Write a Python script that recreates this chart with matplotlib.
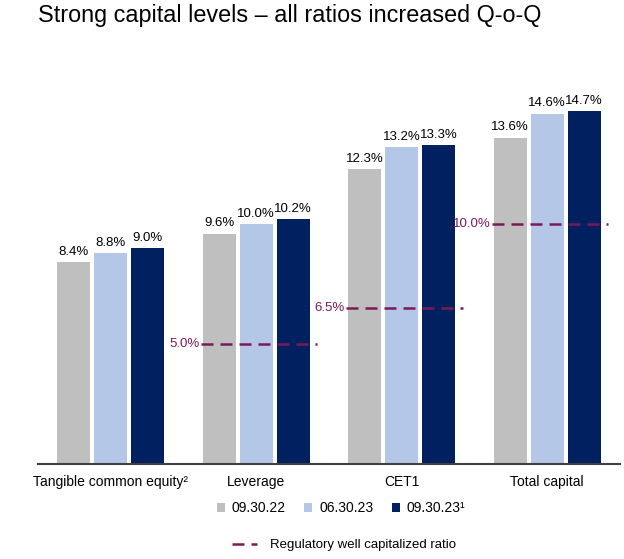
import matplotlib.pyplot as plt
import numpy as np
from matplotlib.lines import Line2D
from matplotlib.patches import Patch

plt.rcParams['font.family'] = ['Liberation Sans', 'DejaVu Sans']

categories = ["Tangible common equity\u00b2", "Leverage", "CET1", "Total capital"]
series = ["09.30.22", "06.30.23", "09.30.23\u00b9"]
q3_22 = [8.4, 9.6, 12.3, 13.6]
q2_23 = [8.8, 10.0, 13.2, 14.6]
q3_23 = [9.0, 10.2, 13.3, 14.7]
well_cap = [None, 5.0, 6.5, 10.0]  # regulatory well capitalized ratio

colors = ["#bfbfbf", "#b4c7e7", "#002060"]
line_color = "#7b1a5a"
dash = (4.8, 2.8)

fig = plt.figure(figsize=(6.24, 5.59), dpi=100)
ax = fig.add_axes([38 / 624, 95 / 559, 582 / 624, 384 / 559])

x = np.arange(len(categories))
w = 0.227
step = 0.254
for i, (vals, c) in enumerate(zip([q3_22, q2_23, q3_23], colors)):
    bars = ax.bar(x + (i - 1) * step, vals, w, color=c, label=series[i])
    ax.bar_label(bars, labels=[f"{v:.1f}%" for v in vals], padding=3, fontsize=9.5)

for xi, v in zip(x, well_cap):
    if v is None:
        continue
    ax.plot([xi - 0.38, xi + 0.42], [v, v], color=line_color, lw=1.8, dashes=dash)
    ax.text(xi - 0.39, v, f"{v:.1f}%", color=line_color, ha='right', va='center', fontsize=9.5)

ax.set_xlim(-0.5, 3.5)
ax.set_ylim(0, 16)
ax.set_xticks(x)
ax.set_xticklabels(categories)
ax.set_yticks([])
ax.tick_params(axis='x', length=0, pad=8, labelsize=10)
for s in ['top', 'left', 'right']:
    ax.spines[s].set_visible(False)
ax.spines['bottom'].set_color('#404040')
ax.spines['bottom'].set_linewidth(1.5)

fig.text(38 / 624, 1 - 22 / 559, "Strong capital levels \u2013 all ratios increased Q-o-Q",
         fontsize=16.8, va='baseline', ha='left')

h1 = [Patch(facecolor=c, label=s) for c, s in zip(colors, series)]
fig.legend(handles=h1, ncol=3, loc='center', bbox_to_anchor=(341 / 624, 1 - 508 / 559),
           frameon=False, handlelength=0.6, handleheight=0.6, handletextpad=0.5,
           columnspacing=1.3, fontsize=10)
h2 = [Line2D([0], [0], color=line_color, lw=1.8, dashes=dash,
             label="Regulatory well capitalized ratio")]
fig.legend(handles=h2, loc='center', bbox_to_anchor=(344 / 624, 1 - 545 / 559),
           frameon=False, handlelength=1.95, handletextpad=1.0, fontsize=9.5)

fig.savefig("out.png", dpi=100)
